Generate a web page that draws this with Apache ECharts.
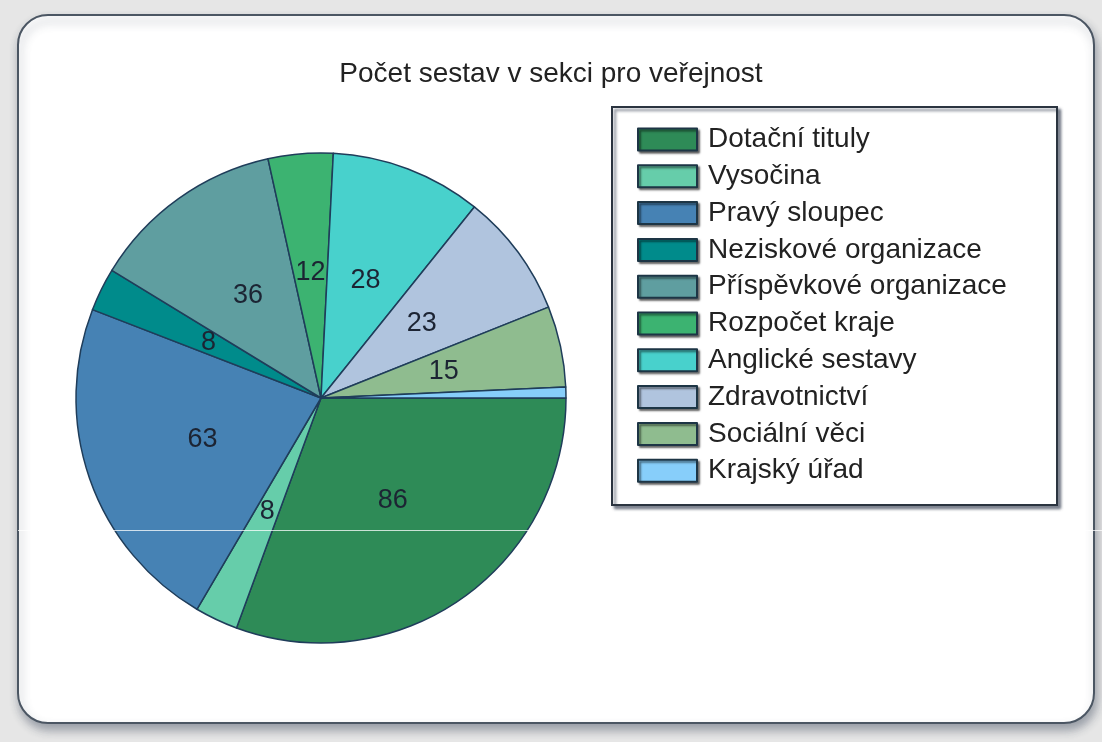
<!DOCTYPE html>
<html>
<head>
<meta charset="utf-8">
<script src="https://cdn.jsdelivr.net/npm/echarts@6/dist/echarts.min.js"></script>
<style>
    html, body {
        margin: 0;
        padding: 0;
        background: #e6e6e6;
    }
    #chart {
        width: 1102px;
        height: 742px;
    }
</style>
</head>
<body>
<div id="chart"></div>
<script>
// data
const categories = ['Dotační tituly', 'Vysočina', 'Pravý sloupec', 'Neziskové organizace', 'Příspěvkové organizace',
    'Rozpočet kraje', 'Anglické sestavy', 'Zdravotnictví', 'Sociální věci', 'Krajský úřad'];
const values = [86, 8, 63, 8, 36, 12, 28, 23, 15, 2];
const colors = ['#2e8b57', '#66cdaa', '#4682b4', '#008b8b', '#5f9ea0',
    '#3cb371', '#48d1cc', '#b0c4de', '#8fbc8f', '#87cefa'];
const titleText = 'Počet sestav v sekci pro veřejnost';

const font = "'Liberation Sans', Arial, sans-serif";

const chart = echarts.init(document.getElementById('chart'));
const option = {
    backgroundColor: '#e6e6e6',
    animation: false,
    title: {
        text: titleText,
        left: 'center',
        top: 55,
        textStyle: {
            fontFamily: font,
            fontSize: 28,
            fontWeight: 'normal',
            color: '#222'
        }
    },
    //面板和图例框
    graphic: [
        {
            type: 'rect',
            z: -10,
            shape: {x: 18, y: 15, width: 1076, height: 708, r: 30},
            style: {
                fill: '#fff',
                stroke: '#4b5663',
                lineWidth: 2,
                shadowBlur: 10,
                shadowOffsetX: 2,
                shadowOffsetY: 6,
                shadowColor: 'rgba(60,70,90,0.45)'
            }
        },
        {
            type: 'rect',
            z: -5,
            shape: {x: 612, y: 107, width: 445, height: 398},
            style: {
                fill: '#fff',
                stroke: '#2b3440',
                lineWidth: 2,
                shadowBlur: 3,
                shadowOffsetX: 3,
                shadowOffsetY: 3,
                shadowColor: 'rgba(40,50,70,0.6)'
            }
        },
        // thin light scan line seen across the picture
        {
            type: 'line',
            z: 100,
            shape: {x1: 18, y1: 530.5, x2: 1102, y2: 530.5},
            style: {stroke: 'rgba(255,255,255,0.75)', lineWidth: 1}
        }
    ],
    legend: {
        orient: 'vertical',
        left: 637,
        top: 125.5,
        padding: 0,
        icon: 'rect',
        itemWidth: 59,
        itemHeight: 22,
        itemGap: 8.8,
        data: categories,
        itemStyle: {
            borderColor: '#1d3545',
            borderWidth: 2,
            shadowBlur: 2,
            shadowOffsetX: 2,
            shadowOffsetY: 2,
            shadowColor: 'rgba(0,0,0,0.5)'
        },
        textStyle: {
            fontFamily: font,
            fontSize: 28,
            color: '#222',
            padding: [0, 0, 0, 6]
        }
    },
    series: [
        {
            type: 'pie',
            center: [321, 398],
            radius: 245,
            startAngle: 0,
            clockwise: true,
            avoidLabelOverlap: false,
            label: {
                show: true,
                position: 'inside',
                formatter: '{c}',
                fontFamily: font,
                fontSize: 27,
                color: '#1c2433'
            },
            labelLine: {show: false},
            itemStyle: {
                borderColor: '#1f3d5a',
                borderWidth: 1.5
            },
            data: categories.map((name, i) => ({
                name: name,
                value: values[i],
                itemStyle: {color: colors[i]}
            }))
        }
    ]
};
chart.setOption(option);
</script>
</body>
</html>
